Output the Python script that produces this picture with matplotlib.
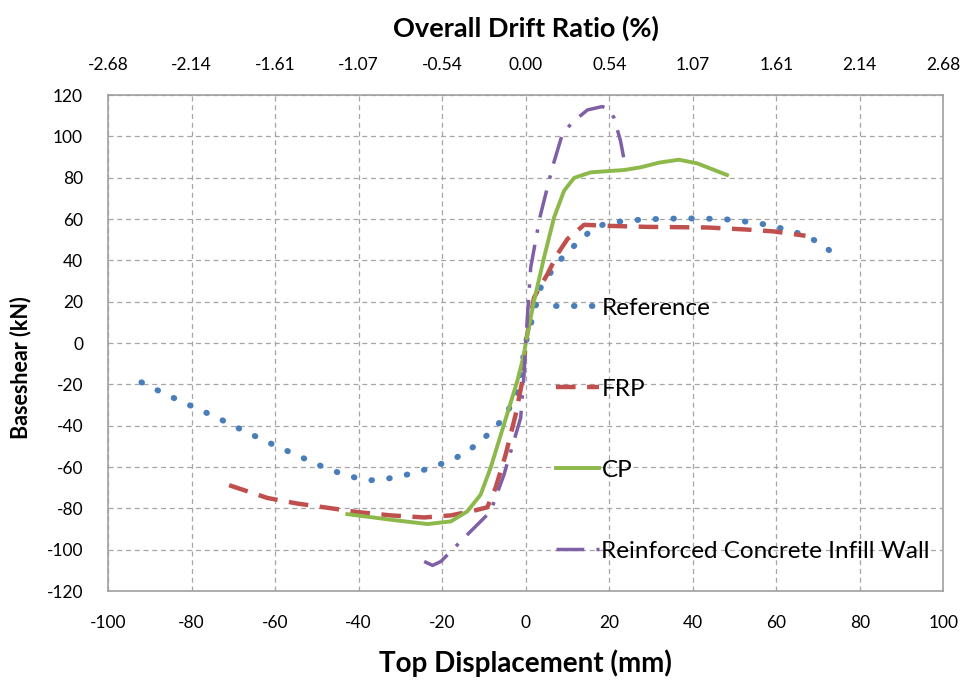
import matplotlib
matplotlib.use("Agg")
import matplotlib.pyplot as plt

plt.rcParams['font.family'] = ['Lato', 'DejaVu Sans']
plt.rcParams['axes.unicode_minus'] = False

# Top displacement (mm) and base shear (kN) for each model
ref_x = [-92, -86, -80, -74, -68, -60, -54, -48, -43, -38, -34, -29, -23, -17, -12, -7, -3.4, -2, 0,
         3.6, 5.2, 7.2, 9.3, 11.6, 14, 16.3, 19.4, 22.7, 27, 32.3, 38.6, 43, 48.2, 54.6, 57.8, 64.2, 70, 72.6, 75]
ref_y = [-19, -25, -30.5, -36, -42, -49.6, -55, -60.4, -64, -66.5, -66, -64, -60.6, -56, -49.6, -40.6, -30, -24, 0,
         26.8, 32, 37.3, 42.7, 47, 51.5, 55.6, 57.9, 58.8, 59.6, 60.1, 60.3, 60.2, 59.8, 58.3, 57.2, 54, 49, 45, 40.6]

frp_x = [-71, -61.8, -54.6, -48.2, -40.3, -32.3, -24.3, -17.9, -12.4, -9.2, -7.2, -4.8, -2.4, -0.8, 0,
         2, 5.2, 7.6, 10, 14, 19.5, 29, 43.5, 53, 59.4, 67]
frp_y = [-68.8, -75, -77.7, -79.5, -81.8, -83.4, -84.4, -83.4, -81.1, -79.5, -70, -54, -34.6, -18.4, 0,
         22, 33.3, 43, 50.3, 57.2, 56.7, 56.2, 55.9, 54.9, 54, 51.9]

cp_x = [-42.7, -32.3, -23.5, -17.9, -14, -10.8, -8.4, -5.2, -2, -0.4, 0,
        2, 4.4, 6.8, 9.2, 11.6, 15.6, 23.5, 27.5, 32, 36.7, 41.1, 48.2]
cp_y = [-82.8, -85.5, -87.6, -86.3, -81.5, -73.4, -60.4, -39.4, -18.4, -5.5, 0,
        20.4, 41.4, 60.8, 73.7, 79.9, 82.6, 83.7, 85, 87.3, 88.7, 86.9, 81.3]

rc_x = [-24.3, -22.3, -20.3, -14.8, -8.4, -5.2, -1.2, -0.4, 0,
        1.2, 3.4, 6.4, 8.8, 11.2, 14.8, 18.3, 19.9, 21.1, 22.7, 23.9]
rc_y = [-105.7, -107.6, -105.7, -94.4, -81.5, -63.7, -36.2, -15.2, 0,
        36.5, 60.8, 85, 101.2, 106.8, 112.8, 114.4, 113.3, 109.2, 97.9, 85]

x_ticks = [-100, -80, -60, -40, -20, 0, 20, 40, 60, 80, 100]
y_ticks = [-120, -100, -80, -60, -40, -20, 0, 20, 40, 60, 80, 100, 120]
drift_labels = ['-2.68', '-2.14', '-1.61', '-1.07', '-0.54', '0.00',
                '0.54', '1.07', '1.61', '2.14', '2.68']

fig = plt.figure(figsize=(9.69, 6.87), dpi=100)
ax = fig.add_axes([0.1115, 0.1397, 0.862, 0.7220])

ax.plot(ref_x, ref_y, color='#4a7ebb', linestyle=(0, (0.1, 2.9)), linewidth=4.3,
        dash_capstyle='round', label='Reference')
ax.plot(frp_x, frp_y, color='#c0504d', linestyle=(0, (4.4, 2.6)), linewidth=3.2,
        label='FRP')
ax.plot(cp_x, cp_y, color='#8db84a', linestyle='-', linewidth=2.8, label='CP')
ax.plot(rc_x, rc_y, color='#7f5fa5', linestyle=(0, (8, 3.5, 1, 3.5)), linewidth=2.5,
        label='Reinforced Concrete Infill Wall')

ax.set_xlim(-100, 100)
ax.set_ylim(-120, 120)
ax.set_xticks(x_ticks)
ax.set_yticks(y_ticks)
ax.tick_params(axis='both', length=0, labelsize=12.5, colors='black')
ax.tick_params(axis='x', pad=17)
ax.tick_params(axis='y', pad=18)
ax.grid(True, color='#a6a6a6', linestyle=(0, (4, 3)), linewidth=0.9)
ax.set_axisbelow(True)
for s in ax.spines.values():
    s.set_color('#a0a0a0')
    s.set_linewidth(1.2)

ax.set_xlabel('Top Displacement (mm)', fontsize=20, fontweight='bold')
ax.xaxis.set_label_coords(0.5, -0.117)
ax.set_ylabel('Baseshear (kN)', fontsize=15.5, fontweight='bold')
ax.yaxis.set_label_coords(-0.092, 0.45)

top = ax.twiny()
top.set_xlim(ax.get_xlim())
top.set_xticks(x_ticks)
top.set_xticklabels(drift_labels)
top.tick_params(axis='x', length=0, labelsize=12.5, pad=16)
for s in top.spines.values():
    s.set_visible(False)
top.set_xlabel('Overall Drift Ratio (%)', fontsize=19.5, fontweight='bold')
top.xaxis.set_label_coords(0.5, 1.118)

leg = ax.legend(loc='upper left', bbox_to_anchor=(0.5365, 0.591), frameon=False,
                fontsize=17.5, labelspacing=2.465, handlelength=1.75, handletextpad=0.11,
                borderaxespad=0, borderpad=0)

fig.savefig('out.png', dpi=100)
